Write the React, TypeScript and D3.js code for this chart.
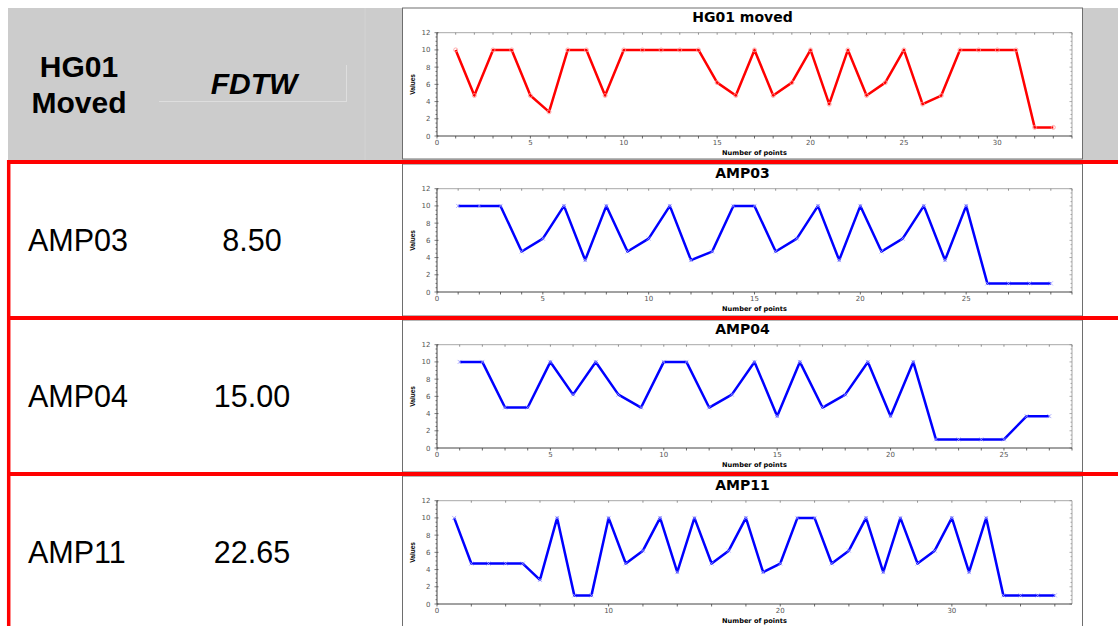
import React from "react";
import * as d3 from "d3";

// ---- data ----
const hg01Moved = [10, 4.7, 10, 10, 4.7, 2.8, 10, 10, 4.7, 10, 10, 10, 10, 10, 6.2, 4.7, 10, 4.7, 6.2, 10, 3.7, 10, 4.7, 6.2, 10, 3.7, 4.7, 10, 10, 10, 10, 1, 1];
const amp03 = [10, 10, 10, 4.7, 6.2, 10, 3.7, 10, 4.7, 6.2, 10, 3.7, 4.7, 10, 10, 4.7, 6.2, 10, 3.7, 10, 4.7, 6.2, 10, 3.7, 10, 1, 1, 1, 1];
const amp04 = [10, 10, 4.7, 4.7, 10, 6.2, 10, 6.2, 4.7, 10, 10, 4.7, 6.2, 10, 3.7, 10, 4.7, 6.2, 10, 3.7, 10, 1, 1, 1, 1, 3.7, 3.7];
const amp11 = [10, 4.7, 4.7, 4.7, 4.7, 2.8, 10, 1, 1, 10, 4.7, 6.2, 10, 3.7, 10, 4.7, 6.2, 10, 3.7, 4.7, 10, 10, 4.7, 6.2, 10, 3.7, 10, 4.7, 6.2, 10, 3.7, 10, 1, 1, 1, 1];

const rowNames = ["AMP03", "AMP04", "AMP11"];
const fdtwScores = ["8.50", "15.00", "22.65"];
const chartTitles = ["HG01 moved", "AMP03", "AMP04", "AMP11"];
const chartSeries = [hg01Moved, amp03, amp04, amp11];
const xMaxes = [34, 30, 28, 37];
const xTickSteps = [1, 1, 1, 2];
const xLabelSteps = [5, 5, 5, 10];
const yTickValues = [0, 2, 4, 6, 8, 10, 12];
const headerLine1 = "HG01";
const headerLine2 = "Moved";
const headerMetric = "FDTW";
const xAxisTitle = "Number of points";
const yAxisTitle = "Values";

// ---- layout ----
const W = 1118;
const H = 626;
const rowTops = [8, 164, 320, 476];
const boxLeft = 402.5;
const boxRight = 1082.5;
const plotLeft = 437;
const plotRight = 1072;
const sans = "'Liberation Sans', Arial, sans-serif";
const dv = "'DejaVu Sans', Verdana, sans-serif";

function MiniChart({ idx }: { idx: number }) {
  const T = rowTops[idx];
  const data = chartSeries[idx];
  const red = idx === 0;
  const color = red ? "#ff0000" : "#0000ff";
  const markColor = red ? "#ff9a9a" : "#9a9aff";
  const x = d3.scaleLinear().domain([0, xMaxes[idx]]).range([plotLeft, plotRight]);
  const y = d3.scaleLinear().domain([0, 12]).range([T + 128, T + 24.7]);
  const pts = data.map((v, i) => [i + 1, v] as [number, number]);
  const line = d3
    .line<[number, number]>()
    .x((d) => x(d[0]))
    .y((d) => y(d[1]));
  const xTicks = d3.range(0, xMaxes[idx] + 0.001, xTickSteps[idx]);
  const xLabels = d3.range(0, xMaxes[idx] - 0.5, xLabelSteps[idx]);
  const yMinor = d3.range(0, 12.001, 0.5);
  const bottom = y(0);
  const top = y(12);
  const boxBottom = idx === 0 ? 159 : T + 152;
  return (
    <g>
      <rect x={boxLeft} y={T} width={boxRight - boxLeft} height={boxBottom - T} fill="#fff" stroke="#6e6e6e" strokeWidth={1} />
      <text x={(boxLeft + boxRight) / 2} y={T + 14.3} textAnchor="middle" fontFamily={dv} fontWeight="bold" fontSize={14} fill="#000">
        {chartTitles[idx]}
      </text>
      {/* frame (top & right) */}
      <line x1={plotLeft} x2={plotRight} y1={top} y2={top} stroke="#a8a8a8" strokeWidth={1} />
      <line x1={plotRight} x2={plotRight} y1={top} y2={bottom} stroke="#a8a8a8" strokeWidth={1} />
      {xTicks.map((t) => (
        <line key={"tt" + t} x1={x(t)} x2={x(t)} y1={top} y2={top + 2} stroke="#777" strokeWidth={0.8} />
      ))}
      {yMinor.map((t) => (
        <line key={"rt" + t} x1={plotRight - (t % 2 === 0 ? 2.5 : 1.5)} x2={plotRight} y1={y(t)} y2={y(t)} stroke="#888" strokeWidth={0.7} />
      ))}
      {/* axes */}
      <line x1={plotLeft} x2={plotRight} y1={bottom} y2={bottom} stroke="#444" strokeWidth={1} />
      <line x1={plotLeft} x2={plotLeft} y1={top} y2={bottom} stroke="#444" strokeWidth={1} />
      {xTicks.map((t) => (
        <line key={"bt" + t} x1={x(t)} x2={x(t)} y1={bottom} y2={bottom + 2.5} stroke="#444" strokeWidth={0.8} />
      ))}
      {yMinor.map((t) => (
        <line key={"lt" + t} x1={plotLeft - (t % 2 === 0 ? 2.5 : 1.5)} x2={plotLeft + (t % 2 === 0 ? 1.5 : 0)} y1={y(t)} y2={y(t)} stroke="#444" strokeWidth={0.7} />
      ))}
      {yTickValues.map((t) => (
        <text key={"yl" + t} x={430.5} y={y(t) + 2.5} textAnchor="end" fontFamily={dv} fontSize={7} fill="#555">
          {t}
        </text>
      ))}
      {xLabels.map((t) => (
        <text key={"xl" + t} x={x(t)} y={T + 137} textAnchor="middle" fontFamily={dv} fontSize={7} fill="#555">
          {t}
        </text>
      ))}
      <text x={(plotLeft + plotRight) / 2} y={T + 146.5} textAnchor="middle" fontFamily={dv} fontWeight="bold" fontSize={6.6} fill="#000">
        {xAxisTitle}
      </text>
      <text
        transform={`translate(415,${(top + bottom) / 2}) rotate(-90)`}
        textAnchor="middle"
        fontFamily={sans}
        fontWeight="bold"
        fontSize={6.5}
        fill="#000"
      >
        {yAxisTitle}
      </text>
      {/* series */}
      <path d={line(pts) || ""} fill="none" stroke={color} strokeWidth={2.5} strokeLinejoin="round" />
      {pts.map((p, i) =>
        red ? (
          <circle key={"m" + i} cx={x(p[0])} cy={y(p[1])} r={2} fill="none" stroke={markColor} strokeWidth={0.8} />
        ) : (
          <path
            key={"m" + i}
            d={`M${x(p[0]) - 2},${y(p[1]) - 2}L${x(p[0]) + 2},${y(p[1]) + 2}M${x(p[0]) - 2},${y(p[1]) + 2}L${x(p[0]) + 2},${y(p[1]) - 2}`}
            stroke={markColor}
            strokeWidth={0.8}
          />
        )
      )}
    </g>
  );
}

export default function App() {
  return (
    <svg width={W} height={H} style={{ position: "fixed", left: 0, top: 0, display: "block" }}>
      <rect x={0} y={0} width={W} height={H} fill="#fff" />
      {/* header */}
      <rect x={8} y={8} width={W - 8} height={152} fill="#cccccc" />
      <line x1={365} x2={365} y1={8} y2={160} stroke="#d3d3d3" strokeWidth={1} />
      <line x1={159} x2={346} y1={101.5} y2={101.5} stroke="#dedede" strokeWidth={1} />
      <line x1={346.5} x2={346.5} y1={65} y2={102} stroke="#dedede" strokeWidth={1} />
      <text x={79} y={77} textAnchor="middle" fontFamily={sans} fontWeight="bold" fontSize={30} fill="#000">
        {headerLine1}
      </text>
      <text x={79} y={113} textAnchor="middle" fontFamily={sans} fontWeight="bold" fontSize={30} fill="#000">
        {headerLine2}
      </text>
      <text x={254} y={94} textAnchor="middle" fontFamily={sans} fontWeight="bold" fontStyle="italic" fontSize={30} fill="#000">
        {headerMetric}
      </text>
      {chartSeries.map((_, i) => (
        <MiniChart key={i} idx={i} />
      ))}
      {/* rows */}
      {rowNames.map((name, i) => {
        const base = 251 + i * 156;
        return (
          <g key={name}>
            <text x={28} y={base} fontFamily={sans} fontSize={30.5} fill="#000">
              {name}
            </text>
            <text x={252} y={base} textAnchor="middle" fontFamily={sans} fontSize={30.5} fill="#000">
              {fdtwScores[i]}
            </text>
          </g>
        );
      })}
      {/* red borders */}
      {[162, 318, 474].map((yy) => (
        <line key={yy} x1={7} x2={W} y1={yy} y2={yy} stroke="#ff0000" strokeWidth={4} />
      ))}
      <line x1={8.7} x2={8.7} y1={160} y2={H} stroke="#ff0000" strokeWidth={3.5} />
    </svg>
  );
}
